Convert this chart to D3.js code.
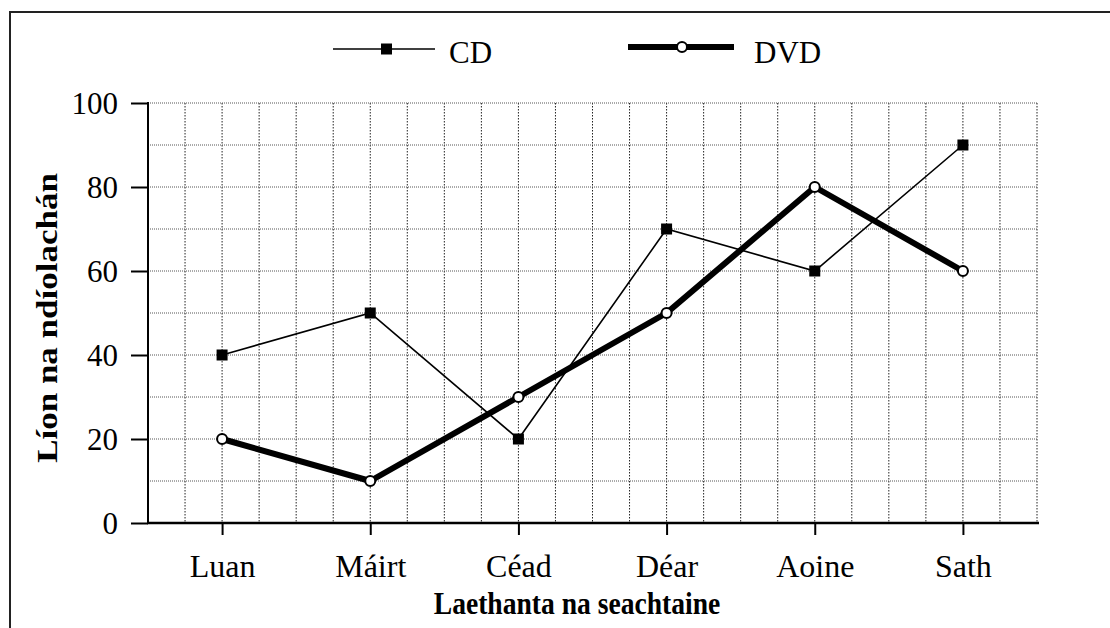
<!DOCTYPE html>
<html>
<head>
<meta charset="utf-8">
<script src="https://cdn.jsdelivr.net/npm/d3@7"></script>
<style>
  body { margin: 0; background: #fff; }
  svg text { font-family: "Liberation Serif", "Times New Roman", serif; fill: #000; }
</style>
</head>
<body>
<svg id="chart"></svg>
<script>
const days = ["Luan", "Máirt", "Céad", "Déar", "Aoine", "Sath"];
const cdSales = [40, 50, 20, 70, 60, 90];
const dvdSales = [20, 10, 30, 50, 80, 60];
const yTicks = [0, 20, 40, 60, 80, 100];
const yGrid = [10, 20, 30, 40, 50, 60, 70, 80, 90, 100];

const W = 1110, H = 628;
const margin = { top: 103, right: 73, bottom: 105, left: 148 };
const width = W - margin.left - margin.right;
const height = H - margin.top - margin.bottom;

const svg = d3.select("#chart").attr("width", W).attr("height", H);

// outer frame (open at right and bottom, like the scan)
svg.append("path")
  .attr("d", "M10," + H + "V12H" + W)
  .attr("fill", "none")
  .attr("stroke", "#222")
  .attr("stroke-width", 2);

const g = svg.append("g")
  .attr("transform", "translate(" + margin.left + "," + margin.top + ")");

const x = d3.scalePoint().domain(days).range([0, width]).padding(0.5);
const y = d3.scaleLinear().domain([0, 100]).range([height, 0]);

// dotted grid: 4 columns per category step, one row per 10
const gx = d3.range(1, 25).map(k => k * x.step() / 4);
g.append("g").selectAll("line")
  .data(gx)
  .join("line")
  .attr("x1", d => d).attr("x2", d => d)
  .attr("y1", 0).attr("y2", height)
  .attr("stroke", "#222")
  .attr("stroke-width", 1)
  .attr("stroke-dasharray", "1.5,1.5");

g.append("g").selectAll("line")
  .data(yGrid)
  .join("line")
  .attr("x1", 0).attr("x2", width)
  .attr("y1", d => y(d)).attr("y2", d => y(d))
  .attr("stroke", "#555")
  .attr("stroke-width", 1)
  .attr("stroke-dasharray", "1,1");

// axes
const yAxis = g.append("g")
  .call(d3.axisLeft(y).tickValues(yTicks).tickSize(17).tickPadding(13));
const xAxis = g.append("g")
  .attr("transform", "translate(0," + height + ")")
  .call(d3.axisBottom(x).tickSize(12).tickPadding(20));

[yAxis, xAxis].forEach(a => {
  a.select(".domain").remove();
  a.selectAll(".tick line").attr("stroke", "#000").attr("stroke-width", 2);
  a.selectAll("text").attr("fill", "#000");
});
yAxis.selectAll("text").style("font-size", "31px").attr("dy", "0.33em");
xAxis.selectAll("text").style("font-size", "32px").attr("dy", "0.68em");

g.append("line")
  .attr("x1", 0).attr("x2", 0).attr("y1", -1).attr("y2", height + 1)
  .attr("stroke", "#000").attr("stroke-width", 2);
g.append("line")
  .attr("x1", -1).attr("x2", width + 2).attr("y1", height).attr("y2", height)
  .attr("stroke", "#000").attr("stroke-width", 2.5);

// series
const line = d3.line()
  .x((d, i) => x(days[i]))
  .y(d => y(d));

g.append("path")
  .datum(cdSales)
  .attr("d", line)
  .attr("fill", "none")
  .attr("stroke", "#000")
  .attr("stroke-width", 1.6);

g.append("path")
  .datum(dvdSales)
  .attr("d", line)
  .attr("fill", "none")
  .attr("stroke", "#000")
  .attr("stroke-width", 6)
  .attr("stroke-linejoin", "round");

g.selectAll(".cd-pt")
  .data(cdSales)
  .join("rect")
  .attr("class", "cd-pt")
  .attr("x", (d, i) => x(days[i]) - 5.5)
  .attr("y", d => y(d) - 5.5)
  .attr("width", 11).attr("height", 11)
  .attr("fill", "#000");

g.selectAll(".dvd-pt")
  .data(dvdSales)
  .join("circle")
  .attr("class", "dvd-pt")
  .attr("cx", (d, i) => x(days[i]))
  .attr("cy", d => y(d))
  .attr("r", 5)
  .attr("fill", "#fff")
  .attr("stroke", "#000")
  .attr("stroke-width", 2);

// axis titles (the scan is slightly condensed horizontally)
svg.append("text")
  .attr("transform", "translate(577,614) scale(0.89,1)")
  .attr("text-anchor", "middle")
  .style("font-size", "31px").style("font-weight", "bold")
  .text("Laethanta na seachtaine");

svg.append("text")
  .attr("transform", "translate(57,318) scale(0.86,1) rotate(-90)")
  .attr("text-anchor", "middle")
  .style("font-size", "35px").style("font-weight", "bold")
  .text("Líon na ndíolachán");

// legend
const legend = svg.append("g");
legend.append("line")
  .attr("x1", 333).attr("x2", 435).attr("y1", 49).attr("y2", 49)
  .attr("stroke", "#000").attr("stroke-width", 1.6);
legend.append("rect")
  .attr("x", 381).attr("y", 43.5).attr("width", 11).attr("height", 11)
  .attr("fill", "#000");
legend.append("text")
  .attr("x", 449).attr("y", 63)
  .style("font-size", "31px")
  .text("CD");

legend.append("line")
  .attr("x1", 628).attr("x2", 734).attr("y1", 47).attr("y2", 47)
  .attr("stroke", "#000").attr("stroke-width", 6);
legend.append("circle")
  .attr("cx", 682).attr("cy", 47).attr("r", 5)
  .attr("fill", "#fff").attr("stroke", "#000").attr("stroke-width", 2);
legend.append("text")
  .attr("x", 754).attr("y", 63)
  .style("font-size", "31px")
  .text("DVD");
</script>
</body>
</html>
